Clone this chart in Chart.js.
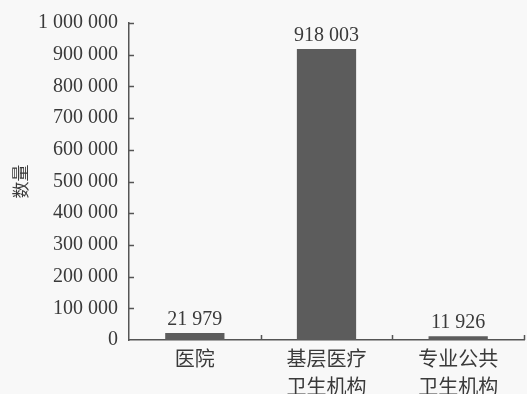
<!DOCTYPE html>
<html>
<head>
<meta charset="utf-8">
<script src="https://cdn.jsdelivr.net/npm/chart.js@4.4.0/dist/chart.umd.min.js"></script>
<style>
  html, body { margin: 0; padding: 0; background: #f8f8f8; }
  #wrap { width: 527px; height: 394px; }
</style>
</head>
<body>
<div id="wrap"><canvas id="chart"></canvas></div>
<script>
// chart data
const categories = [['医院'], ['基层医疗', '卫生机构'], ['专业公共', '卫生机构']];
const counts = [21979, 918003, 11926];
const yTicks = [0, 100000, 200000, 300000, 400000, 500000, 600000, 700000, 800000, 900000, 1000000];
const yTitle = '数量';

const inkColor = '#3a3a3a';
const axisColor = '#555';
const barColor = '#5c5c5c';

function spaced(n) {
  return String(n).replace(/\B(?=(\d{3})+(?!\d))/g, ' ');
}

// short inward tick marks + value labels above bars
const decorations = {
  id: 'decorations',
  afterDraw(chart) {
    const ctx = chart.ctx;
    const x = chart.scales.x, y = chart.scales.y;
    ctx.save();
    ctx.strokeStyle = axisColor;
    ctx.lineWidth = 1.5;
    y.ticks.forEach((t, i) => {
      if (t.value === 0) return;
      const py = Math.round(y.getPixelForTick(i)) + 0.5;
      ctx.beginPath();
      ctx.moveTo(x.left, py);
      ctx.lineTo(x.left + 5, py);
      ctx.stroke();
    });
    const step = x.width / categories.length;
    for (let i = 1; i <= categories.length; i++) {
      const px = Math.round(x.left + step * i) + 0.5;
      ctx.beginPath();
      ctx.moveTo(px, y.bottom);
      ctx.lineTo(px, y.bottom - 5);
      ctx.stroke();
    }
    ctx.fillStyle = inkColor;
    ctx.font = '20px "Liberation Serif", serif';
    ctx.textAlign = 'center';
    ctx.textBaseline = 'alphabetic';
    chart.getDatasetMeta(0).data.forEach((bar, i) => {
      ctx.fillText(spaced(counts[i]), bar.x, bar.y - 8);
    });
    ctx.restore();
  }
};

new Chart(document.getElementById('chart'), {
  type: 'bar',
  data: {
    labels: categories,
    datasets: [{
      data: counts,
      backgroundColor: barColor,
      borderWidth: 0,
      barPercentage: 0.45,
      categoryPercentage: 1
    }]
  },
  options: {
    responsive: true,
    maintainAspectRatio: false,
    animation: false,
    layout: { padding: { top: 10, right: 3, left: 0, bottom: 0 } },
    plugins: {
      legend: { display: false },
      tooltip: { enabled: false }
    },
    scales: {
      x: {
        grid: { display: false, drawTicks: false },
        border: { color: axisColor, width: 1.5 },
        ticks: {
          color: inkColor,
          padding: 4,
          maxRotation: 0,
          font: { family: '"Noto Sans CJK SC", sans-serif', size: 20, lineHeight: 1.4 }
        },
        afterFit(scale) { scale.height = 54; }
      },
      y: {
        min: 0,
        max: 1000000,
        grid: { display: false, drawTicks: false },
        border: { color: axisColor, width: 1.5 },
        afterBuildTicks(scale) { scale.ticks = yTicks.map(v => ({ value: v })); },
        ticks: {
          color: inkColor,
          padding: 11,
          font: { family: '"Liberation Serif", serif', size: 20 },
          callback: v => spaced(v)
        },
        title: {
          display: true,
          text: yTitle,
          color: inkColor,
          padding: { top: 10, bottom: 0 },
          font: { family: '"Noto Sans CJK SC", sans-serif', size: 17 }
        },
        afterFit(scale) { scale.width = 129; }
      }
    }
  },
  plugins: [decorations]
});
</script>
</body>
</html>
